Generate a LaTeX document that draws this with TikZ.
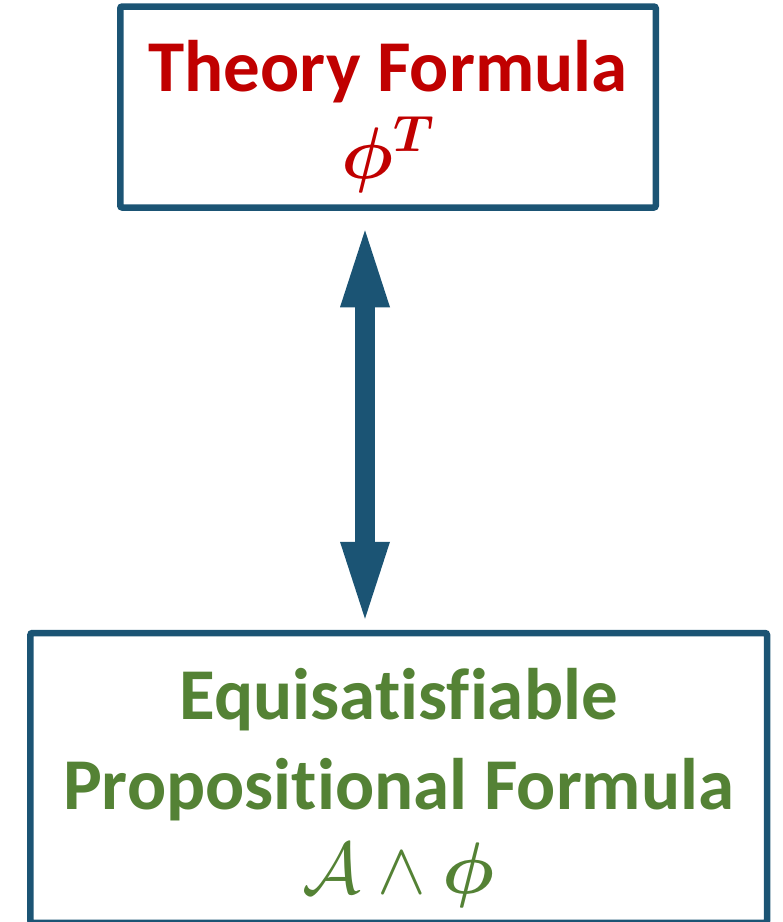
\RequirePackage{fix-cm}
\documentclass[tikz,border=0pt]{standalone}
\usepackage{fontspec}
\setmainfont{Carlito}[Ligatures=NoCommon]
\usepackage{xcolor}
\usetikzlibrary{arrows.meta, positioning, calc}
\definecolor{boxblue}{HTML}{1B5474}
\definecolor{theoryred}{HTML}{C00000}
\definecolor{propgreen}{HTML}{548235}

\begin{document}
\begin{tikzpicture}[
  x=1pt, y=1pt,
  font=\fontsize{73}{88}\selectfont\bfseries,
  frame/.style={draw=boxblue, line width=6.5pt, rounded corners=2pt, align=center, inner sep=0pt},
  link/.style={draw=boxblue, line width=20pt, {Triangle[width=50pt, length=77pt, line width=0pt]}-{Triangle[width=50pt, length=77pt, line width=0pt]}}
]
  \useasboundingbox (0,0) rectangle (783,-922);
  \node[frame, text=theoryred, minimum width=535.5pt, minimum height=201pt] (theory) at (388,-107) {\rule{0pt}{70pt}Theory Formula\\[-1pt]{\boldmath$\phi^{T}$}};
  \node[frame, text=propgreen, minimum width=736.6pt, minimum height=289.8pt] (prop) at (398.7,-777.9) {\rule{0pt}{72pt}Equisatisfiable\\[2pt]Propositional Formula\\[-4pt]$\mathcal{A}\wedge\mbox{\boldmath$\phi$}$};
  \coordinate (axis) at (365,0);
  \draw[link] ($(axis |- theory.south)+(0,-19.5)$) -- ($(axis |- prop.north)+(0,11)$);
\end{tikzpicture}
\end{document}
